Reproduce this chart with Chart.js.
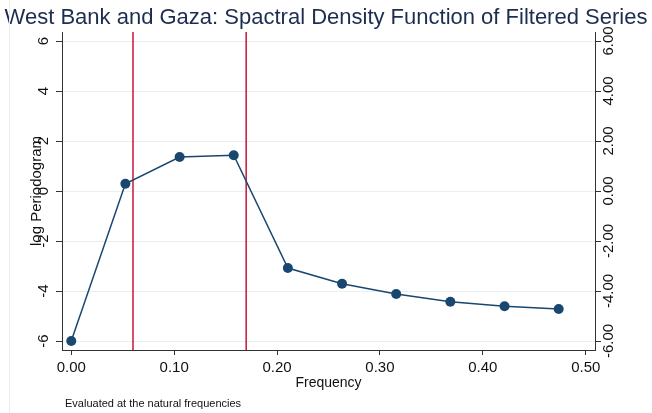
<!DOCTYPE html>
<html>
<head>
<meta charset="utf-8">
<script src="https://cdn.jsdelivr.net/npm/chart.js@4.4.1/dist/chart.umd.min.js"></script>
<style>
  html, body { margin: 0; padding: 0; background: #fff; }
</style>
</head>
<body>
<canvas id="spectrum" width="652" height="413"></canvas>
<script>
// natural frequencies (j/19) and the log periodogram at each one
const frequencies = [0, 0.0526, 0.1053, 0.1579, 0.2105, 0.2632, 0.3158, 0.3684, 0.4211, 0.4737];
const logPeriodogram = [-6.00, 0.29, 1.36, 1.43, -3.08, -3.71, -4.12, -4.43, -4.61, -4.72];

// pass band of the filter
const bandCutoffs = [0.06, 0.17];

const xTicks = [0, 0.1, 0.2, 0.3, 0.4, 0.5];
const xLabels = ['0.00', '0.10', '0.20', '0.30', '0.40', '0.50'];
const yTicks = [-6, -4, -2, 0, 2, 4, 6];
const yLabelsLeft = ['-6', '-4', '-2', '0', '2', '4', '6'];
const yLabelsRight = ['-6.00', '-4.00', '-2.00', '0.00', '2.00', '4.00', '6.00'];

const X_MIN = -0.009, X_MAX = 0.509;
const Y_MIN = -6.36, Y_MAX = 6.36;

const FONT = '"Liberation Sans", Arial, sans-serif';
const NAVY = '#1a476f';
const CRIMSON = '#c8143c';
const AXIS = '#333333';
const GRID = '#e8eff1';

// rotated y labels, y title, note and the outer frame edge
const stataText = {
    id: 'stataText',
    afterDraw(chart) {
        const ctx = chart.ctx;
        const y = chart.scales.y;

        ctx.save();
        ctx.fillStyle = '#111';
        ctx.font = '15px ' + FONT;
        ctx.textAlign = 'center';
        ctx.textBaseline = 'middle';
        yTicks.forEach((v, i) => {
            const py = y.getPixelForValue(v);
            ctx.save();
            ctx.translate(44, py);
            ctx.rotate(-Math.PI / 2);
            ctx.fillText(yLabelsLeft[i], 0, 0);
            ctx.restore();

            ctx.save();
            ctx.translate(609, py);
            ctx.rotate(-Math.PI / 2);
            ctx.fillText(yLabelsRight[i], 0, 0);
            ctx.restore();
        });

        // axis title sits right on top of the tick labels
        ctx.save();
        ctx.translate(37, (chart.chartArea.top + chart.chartArea.bottom) / 2);
        ctx.rotate(-Math.PI / 2);
        ctx.fillText('log Periodogram', 0, 0);
        ctx.restore();

        ctx.font = '11px ' + FONT;
        ctx.textAlign = 'left';
        ctx.fillText('Evaluated at the natural frequencies', 65, 404);

        ctx.strokeStyle = '#ececec';
        ctx.lineWidth = 1;
        ctx.beginPath();
        ctx.moveTo(9.5, 0);
        ctx.lineTo(9.5, 413);
        ctx.stroke();
        ctx.restore();
    }
};

const series = frequencies.map((f, i) => ({ x: f, y: logPeriodogram[i] }));

const bandDatasets = bandCutoffs.map(c => ({
    data: [{ x: c, y: Y_MIN }, { x: c, y: Y_MAX }],
    borderColor: CRIMSON,
    borderWidth: 1.5,
    pointRadius: 0,
    showLine: true,
    fill: false
}));

new Chart(document.getElementById('spectrum'), {
    type: 'scatter',
    data: {
        datasets: [{
            data: series,
            borderColor: NAVY,
            backgroundColor: NAVY,
            borderWidth: 1.5,
            pointRadius: 5,
            pointBorderWidth: 0,
            showLine: true,
            fill: false
        }].concat(bandDatasets)
    },
    options: {
        responsive: false,
        animation: false,
        devicePixelRatio: 1,
        layout: { padding: 0 },
        plugins: {
            legend: { display: false },
            tooltip: { enabled: false },
            title: {
                display: true,
                text: 'West Bank and Gaza: Spactral Density Function of Filtered Series',
                color: '#1c2d50',
                font: { family: FONT, size: 22, weight: 'normal', lineHeight: 1.2 },
                padding: { top: 5, bottom: 0.6 }
            }
        },
        scales: {
            x: {
                type: 'linear',
                min: X_MIN,
                max: X_MAX,
                afterBuildTicks: s => { s.ticks = xTicks.map(v => ({ value: v })); },
                afterFit: s => { s.height = 63; },
                ticks: {
                    color: '#111',
                    font: { family: FONT, size: 15 },
                    padding: 4,
                    maxRotation: 0,
                    callback: (v) => xLabels[xTicks.indexOf(v)]
                },
                grid: { drawOnChartArea: false, drawTicks: true, tickLength: 5, tickColor: AXIS },
                border: { display: true, color: AXIS, width: 1 },
                title: {
                    display: true,
                    text: 'Frequency',
                    color: '#111',
                    font: { family: FONT, size: 14 },
                    padding: { top: 0, bottom: 21 }
                }
            },
            y: {
                type: 'linear',
                position: 'left',
                min: Y_MIN,
                max: Y_MAX,
                afterBuildTicks: s => { s.ticks = yTicks.map(v => ({ value: v })); },
                afterFit: s => { s.width = 62; },
                ticks: { display: false },
                grid: { color: GRID, lineWidth: 1, drawTicks: true, tickLength: 6, tickColor: AXIS },
                border: { display: true, color: AXIS, width: 1 }
            },
            y2: {
                type: 'linear',
                position: 'right',
                min: Y_MIN,
                max: Y_MAX,
                afterBuildTicks: s => { s.ticks = yTicks.map(v => ({ value: v })); },
                afterFit: s => { s.width = 57; },
                ticks: { display: false },
                grid: { drawOnChartArea: false, drawTicks: true, tickLength: 6, tickColor: AXIS },
                border: { display: true, color: AXIS, width: 1 }
            }
        }
    },
    plugins: [stataText]
});
</script>
</body>
</html>
